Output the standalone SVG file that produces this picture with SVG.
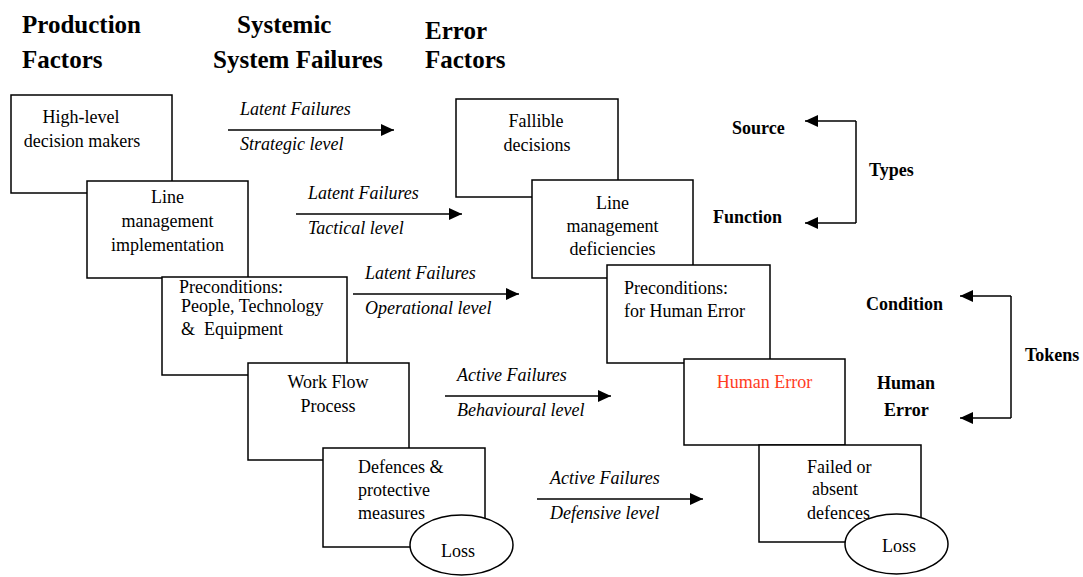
<svg xmlns="http://www.w3.org/2000/svg" width="1083" height="577" viewBox="0 0 1083 577" font-family="'Liberation Serif', 'Times New Roman', Times, 'DejaVu Serif', serif">
<style>
.box{fill:#fff;stroke:#000;stroke-width:1.5}
.t{font-family:'Liberation Serif','Times New Roman',Times,'DejaVu Serif',serif;font-size:18px;fill:#000}
.c{text-anchor:middle}
.i{font-style:italic}
.b{font-weight:bold}
.h{font-family:'Liberation Serif','Times New Roman',Times,'DejaVu Serif',serif;font-size:25px;font-weight:bold;fill:#000}
.ln{stroke:#000;stroke-width:1.5;fill:none}
</style>
<defs>
<marker id="ah" markerWidth="13" markerHeight="12" refX="13" refY="6" orient="auto" markerUnits="userSpaceOnUse">
<path d="M0,0 L13,6 L0,12 Z" fill="#000"/>
</marker>
</defs>
<g id="headers">
<text class="h" x="22" y="33">Production</text>
<text class="h" x="22" y="68">Factors</text>
<text class="h" x="237" y="33">Systemic</text>
<text class="h" x="213" y="68">System Failures</text>
<text class="h" x="425" y="39">Error</text>
<text class="h" x="425" y="68">Factors</text>
</g>
<g id="prod1"><rect class="box" x="11" y="95" width="161" height="98"/>
<text class="t c" x="81" y="123">High-level</text><text class="t c" x="82" y="147">decision makers</text></g>
<g id="prod2"><rect class="box" x="87" y="181" width="161" height="97"/>
<text class="t c" x="167.5" y="203">Line</text><text class="t c" x="167.5" y="227">management</text><text class="t c" x="167.5" y="251">implementation</text></g>
<g id="prod3"><rect class="box" x="162" y="277" width="185" height="98"/>
<text class="t" x="179" y="293">Preconditions:</text><text class="t" x="181" y="312">People, Technology</text><text class="t" x="181" y="335" xml:space="preserve">&amp;  Equipment</text></g>
<g id="prod4"><rect class="box" x="248" y="363" width="161" height="97"/>
<text class="t c" x="328" y="388">Work Flow</text><text class="t c" x="328" y="412">Process</text></g>
<g id="prod5"><rect class="box" x="323" y="448" width="162" height="99"/>
<text class="t" x="358" y="473">Defences &amp;</text><text class="t" x="358" y="496">protective</text><text class="t" x="358" y="519">measures</text></g>
<g id="loss1"><ellipse class="box" cx="461.5" cy="545" rx="51.5" ry="30"/>
<text class="t c" x="458" y="557">Loss</text></g>
<g id="err1"><rect class="box" x="456" y="99" width="162" height="98"/>
<text class="t c" x="536" y="127">Fallible</text><text class="t c" x="537" y="151">decisions</text></g>
<g id="err2"><rect class="box" x="532" y="180" width="161" height="98"/>
<text class="t c" x="612.5" y="209">Line</text><text class="t c" x="612.5" y="232">management</text><text class="t c" x="612.5" y="255">deficiencies</text></g>
<g id="err3"><rect class="box" x="607" y="265" width="163" height="98"/>
<text class="t" x="624" y="294">Preconditions:</text><text class="t" x="624" y="317">for Human Error</text></g>
<g id="err4"><rect class="box" x="684" y="359" width="161" height="86"/>
<text class="t c" x="764.5" y="388" style="fill:#ff3c1e">Human Error</text></g>
<g id="err5"><rect class="box" x="759" y="445" width="162" height="97"/>
<text class="t" x="807" y="473">Failed or</text><text class="t" x="812" y="495">absent</text><text class="t" x="807" y="519">defences</text></g>
<g id="loss2"><ellipse class="box" cx="896.5" cy="544" rx="51.5" ry="30"/>
<text class="t c" x="899" y="552">Loss</text></g>
<g id="connectors">
<line class="ln" x1="228" y1="130" x2="394" y2="130" marker-end="url(#ah)"/>
<line class="ln" x1="296" y1="214" x2="462" y2="214" marker-end="url(#ah)"/>
<line class="ln" x1="353" y1="294" x2="519" y2="294" marker-end="url(#ah)"/>
<line class="ln" x1="445" y1="396" x2="611" y2="396" marker-end="url(#ah)"/>
<line class="ln" x1="537" y1="499" x2="703" y2="499" marker-end="url(#ah)"/>
<polyline class="ln" points="856,121 856,223"/>
<line class="ln" x1="856" y1="121" x2="805" y2="121" marker-end="url(#ah)"/>
<line class="ln" x1="856" y1="223" x2="805" y2="223" marker-end="url(#ah)"/>
<polyline class="ln" points="1011,296 1011,418"/>
<line class="ln" x1="1011" y1="296" x2="960" y2="296" marker-end="url(#ah)"/>
<line class="ln" x1="1011" y1="418" x2="960" y2="418" marker-end="url(#ah)"/>
</g>
<g id="labels">
<text class="t i" x="240" y="115">Latent Failures</text>
<text class="t i" x="240" y="150">Strategic level</text>
<text class="t i" x="308" y="199">Latent Failures</text>
<text class="t i" x="308" y="234">Tactical level</text>
<text class="t i" x="365" y="279">Latent Failures</text>
<text class="t i" x="365" y="314">Operational level</text>
<text class="t i" x="457" y="381">Active Failures</text>
<text class="t i" x="457" y="416">Behavioural level</text>
<text class="t i" x="550" y="484">Active Failures</text>
<text class="t i" x="550" y="519">Defensive level</text>
<text class="t b" x="732" y="134">Source</text>
<text class="t b" x="713" y="223">Function</text>
<text class="t b" x="869" y="176">Types</text>
<text class="t b" x="866" y="310">Condition</text>
<text class="t b" x="1025" y="361">Tokens</text>
<text class="t b" x="877" y="389">Human</text>
<text class="t b" x="884" y="416">Error</text>
</g>
</svg>
